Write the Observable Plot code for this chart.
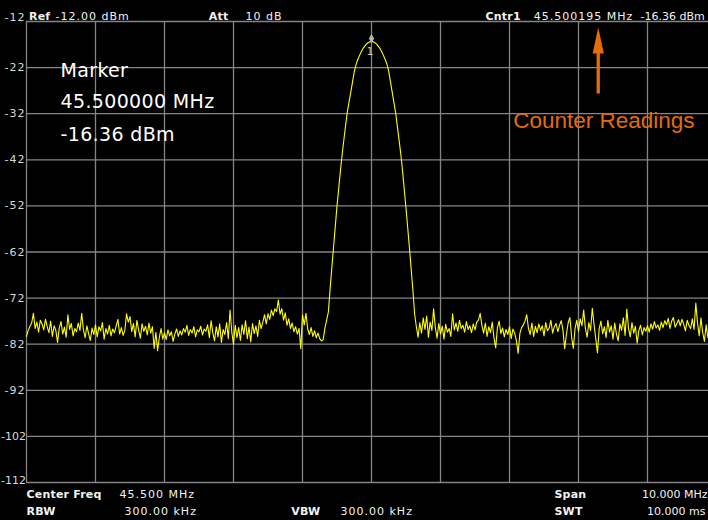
<!DOCTYPE html>
<html><head><meta charset="utf-8">
<script src="https://cdn.jsdelivr.net/npm/d3@7"></script>
<script src="https://cdn.jsdelivr.net/npm/@observablehq/plot@0.6"></script>
<style>
html,body{margin:0;padding:0;background:#000;overflow:hidden;}
#chart svg{display:block;overflow:hidden;}
#chart g.reg{letter-spacing:1px;}
#chart g.tight{letter-spacing:0px;}
#chart g.bld{letter-spacing:0.2px;}
#chart g.big{letter-spacing:0.35px;}
</style></head><body><div id="chart"></div>
<script>
// Sweep: 401 trace points, 40.5 MHz .. 50.5 MHz
const startFreq = 40.5;
const freqStep = 0.025;

// Trace levels (dBm)
const noiseLeft = [
-80.3,-79.0,-78.1,-77.4,-75.3,-78.6,-77.2,-79.4,-76.8,-77.6,
-78.9,-76.6,-78.2,-79.5,-77.0,-80.3,-78.0,-79.0,-81.6,-78.4,
-77.1,-79.8,-78.3,-80.5,-75.6,-78.8,-77.5,-80.2,-78.6,-79.3,
-77.4,-79.0,-75.3,-78.9,-80.6,-78.0,-79.7,-81.2,-78.5,-79.9,
-77.8,-80.4,-78.2,-79.1,-77.3,-80.9,-78.6,-79.8,-77.9,-80.2,
-78.7,-79.5,-78.0,-76.6,-79.8,-78.4,-80.1,-79.0,-75.4,-77.2,
-76.0,-79.3,-77.5,-80.4,-76.8,-78.9,-80.7,-77.6,-79.2,-78.1,
-80.0,-77.4,-79.6,-78.2,-82.9,-79.4,-83.4,-80.5,-78.6,-80.9,
-79.5,-81.0,-78.9,-80.2,-79.3,-81.4,-79.8,-78.7,-80.3,-79.1,
-80.0,-78.6,-79.4,-77.9,-80.1,-78.8,-79.6,-78.2,-80.4,-78.9,
-79.3,-78.1,-80.0,-78.7,-79.2,-77.8,-80.6,-76.9,-79.5,-81.3,
-78.2,-80.4,-77.6,-81.6,-78.8,-79.9,-77.3,-80.8,-74.6,-79.4,
-82.0,-77.9,-80.6,-78.4,-81.2,-77.8,-79.9,-76.9,-80.8,-78.3,
-81.5,-77.5,-79.7,-78.0,-80.3,-76.8,-78.6,-77.2,-75.6,-77.6,
-75.4,-76.6,-74.6,-75.8,-74.3,-74.9,-72.4,-75.5,-74.3,-76.8,
-75.2,-77.9,-76.5,-78.6,-77.4,-79.3,-78.2,-79.8,-78.6,-83.0,
-75.6,-77.8,-75.3,-78.7,-79.9,-78.4,-80.3,-79.1,-80.6,-79.6,
-80.8,-81.3
];
const signalTrace = [
-81.0,-78.5,-76.8,-75.0,-70.0,-65.4,-60.9,-56.5,-52.0,-48.2,
-44.3,-40.8,-37.6,-34.5,-31.6,-29.4,-27.3,-25.1,-22.9,-21.4,
-20.3,-19.4,-18.6,-17.9,-17.4,-16.9,-16.6,-16.4,-16.36,-16.4,
-16.6,-16.9,-17.4,-17.9,-18.6,-19.4,-20.3,-21.3,-22.8,-25.1,
-27.3,-29.6,-31.8,-34.8,-37.8,-40.8,-44.4,-48.5,-52.5,-56.8,
-61.1,-65.7,-70.3,-75.5,-78.2,-80.5,-77.3
];
const noiseRight = [
-79.6,-76.3,-78.8,-75.9,-80.5,-77.2,-79.0,-74.3,-78.4,-80.7,
-77.5,-79.8,-78.1,-80.9,-77.7,-79.4,-78.6,-80.3,-75.4,-78.9,
-77.4,-79.2,-76.8,-78.6,-77.9,-79.4,-77.1,-78.8,-78.0,-79.5,
-77.6,-78.9,-77.2,-76.8,-75.3,-77.9,-79.6,-77.4,-80.3,-78.2,
-79.5,-77.2,-80.6,-82.8,-78.4,-77.0,-79.7,-78.5,-80.4,-78.8,
-79.9,-78.2,-80.8,-78.7,-79.6,-81.2,-84.0,-79.7,-78.4,-77.8,
-77.0,-75.6,-78.6,-79.9,-77.4,-80.3,-78.1,-79.5,-77.6,-79.0,
-78.0,-80.2,-77.3,-79.1,-78.5,-76.8,-79.6,-78.2,-77.5,-79.3,
-77.9,-76.9,-79.0,-83.0,-79.8,-77.4,-76.2,-80.4,-82.9,-78.6,
-76.8,-79.2,-76.5,-78.0,-74.6,-78.6,-80.5,-77.3,-79.0,-74.2,
-77.7,-80.8,-83.9,-78.6,-77.0,-79.7,-78.2,-80.6,-76.8,-79.4,
-78.0,-80.9,-77.4,-79.8,-81.3,-77.6,-79.0,-76.3,-80.1,-74.4,
-78.6,-80.4,-77.3,-79.6,-78.1,-81.8,-79.0,-77.9,-80.0,-78.4,
-79.2,-78.0,-79.4,-77.6,-78.7,-77.1,-78.5,-77.8,-79.0,-77.2,
-78.4,-76.9,-77.8,-76.4,-78.6,-77.0,-76.2,-78.3,-77.5,-76.7,
-78.0,-76.6,-77.7,-79.1,-76.8,-77.9,-78.6,-76.5,-78.8,-73.1,
-77.4,-80.2,-76.3,-79.5,-81.4,-77.8,-80.6,-78.3,-79.7,-77.5,
-78.9,-78.0
];

// Grid / tick values
const xTicks = [40.5,41.5,42.5,43.5,44.5,45.5,46.5,47.5,48.5,49.5,50.5];
const yTicks = [-12,-22,-32,-42,-52,-62,-72,-82,-92,-102,-112];

// Marker readout
const markerFreq = 45.5;
const markerLevel = -16.36;
const markerLines = ["Marker","45.500000 MHz","-16.36 dBm"];

// Header / footer texts
const headerTexts = ["Ref","-12.00 dBm","Att","10 dB","Cntr1","45.500195 MHz","-16.36 dBm"];
const footerRow1 = ["Center Freq","45.500 MHz","Span","10.000 MHz"];
const footerRow2 = ["RBW","300.00 kHz","VBW","300.00 kHz","SWT","10.000 ms"];
const calloutText = "Counter Readings";

const levels = [...noiseLeft, ...signalTrace, ...noiseRight];
const trace = levels.map((dbm, i) => ({freq: startFreq + i * freqStep, dbm}));

const orange = "#E46C0A";
const gridColor = "#858585";
const tickColor = "#d8d8d8";

// pixel-placed label helper (relative to frame top-left at 26,21)
const lab = (str, x, y, o = {}) => Plot.text([str], {
  frameAnchor: "top-left", dx: x - 26, dy: y - 21, text: d => d,
  textAnchor: "start", lineAnchor: "bottom", fill: "#f2f2f2", fontSize: 11, ...o
});
const reg = {className: "reg"};
const tight = {className: "tight"};
const bld = {fontWeight: "bold", className: "bld"};

// arrow symbol: tall narrow triangle
const arrowHead = {draw(ctx) { ctx.moveTo(0, -13); ctx.lineTo(5.6, 13); ctx.lineTo(-5.6, 13); ctx.closePath(); }};
const arrowX = 48.786;

const yLab = (vals, o) => Plot.text(vals, {x: 40.5, y: d => d, text: d => String(d), textAnchor: "end", dx: -1, fill: tickColor, fontSize: 11, ...o});

const chart = Plot.plot({
  width: 708, height: 520,
  marginLeft: 26, marginRight: -8, marginTop: 21, marginBottom: 38,
  style: {background: "#000", color: "#fff", fontFamily: "DejaVu Sans", overflow: "hidden"},
  x: {domain: [40.5, 50.5], axis: null},
  y: {domain: [-112, -12], axis: null},
  marks: [
    Plot.ruleX(xTicks, {stroke: gridColor, strokeWidth: 1.3}),
    Plot.ruleY(yTicks, {stroke: gridColor, strokeWidth: 1.3}),
    // y tick labels
    yLab(yTicks.slice(1, -2), {lineAnchor: "middle", className: "reg"}),
    yLab(yTicks.slice(0, 1), {dy: -1, lineAnchor: "bottom", className: "reg"}),
    yLab(yTicks.slice(-2, -1), {lineAnchor: "middle", className: "tight", dx: -0.5}),
    yLab(yTicks.slice(-1), {dy: 1, lineAnchor: "bottom", className: "tight", dx: -0.5}),
    // trace
    Plot.line(trace, {x: "freq", y: "dbm", stroke: "#ffff00", strokeWidth: 1.1}),
    // marker
    Plot.dot([markerFreq], {x: d => d, y: markerLevel, symbol: "diamond", r: 2.8, fill: "#b4b4b4", stroke: null, dy: -3}),
    Plot.text(["1"], {x: markerFreq, y: markerLevel, text: d => d, dx: -1.5, dy: 13.5, lineAnchor: "bottom", fill: "#c8c8c8", fontSize: 11}),
    // counter arrow
    Plot.link([arrowX], {x1: d => d, x2: d => d, y1: -27.62, y2: -17.5, stroke: orange, strokeWidth: 3.3}),
    Plot.dot([arrowX], {x: d => d, y: -16.12, symbol: arrowHead, fill: orange, stroke: null}),
    lab(calloutText, 512.7, 127.3, {fill: orange, fontSize: 22.5, fontFamily: "Liberation Sans"}),
    // marker readout
    lab(markerLines[0], 60, 76.5, {fontSize: 19, className: "big", fill: "#fff"}),
    lab(markerLines[1], 60, 107.5, {fontSize: 19, className: "big", fill: "#fff"}),
    lab(markerLines[2], 60, 140.8, {fontSize: 19, className: "big", fill: "#fff"}),
    // header
    lab(headerTexts[0], 28.5, 19.3, bld),
    lab(headerTexts[1], 55, 19.3, reg),
    lab(headerTexts[2], 208.3, 19.3, bld),
    lab(headerTexts[3], 245, 19.3, reg),
    lab(headerTexts[4], 485, 19.3, bld),
    lab(headerTexts[5], 533.3, 19.3, reg),
    lab(headerTexts[6], 640, 19.3, tight),
    // footer row 1
    lab(footerRow1[0], 26, 497, bld),
    lab(footerRow1[1], 119, 497, reg),
    lab(footerRow1[2], 554, 497, bld),
    lab(footerRow1[3], 641.5, 497, tight),
    // footer row 2
    lab(footerRow2[0], 26, 514.3, bld),
    lab(footerRow2[1], 124, 514.3, reg),
    lab(footerRow2[2], 290.7, 514.3, bld),
    lab(footerRow2[3], 340, 514.3, reg),
    lab(footerRow2[4], 554, 514.3, bld),
    lab(footerRow2[5], 646.5, 514.3, tight)
  ]
});
document.getElementById("chart").appendChild(chart);
</script>
</body></html>
